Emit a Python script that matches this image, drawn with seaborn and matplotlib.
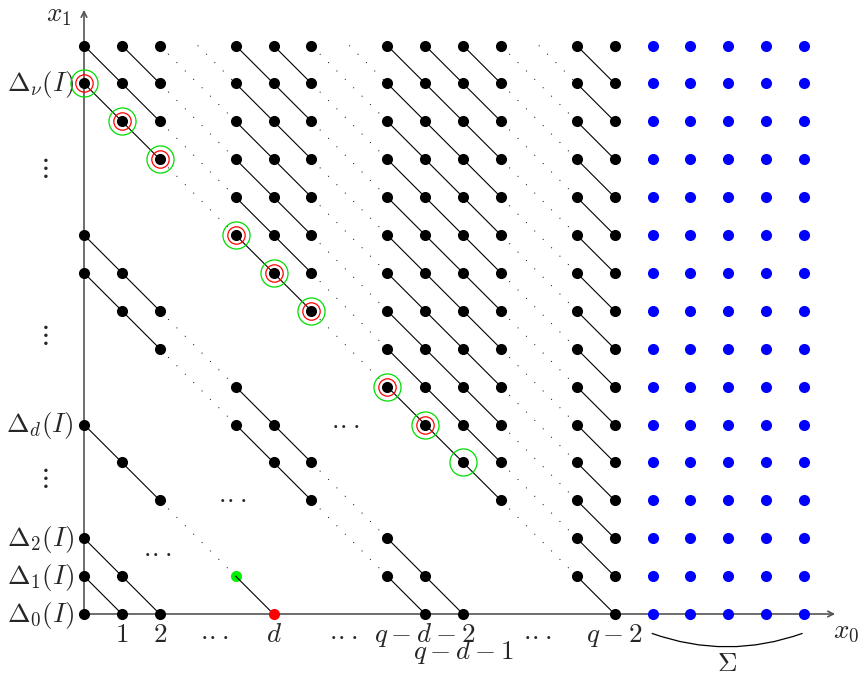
import numpy as np
import pandas as pd
import matplotlib
matplotlib.use("Agg")
import matplotlib.pyplot as plt
import seaborn as sns
from matplotlib.path import Path
from matplotlib.patches import PathPatch

sns.set_style("white")
plt.rcParams["mathtext.fontset"] = "cm"
FS = 19.5

# black lattice points: visible x0 columns and the x1 rows drawn in each
black_cols = [0, 1, 2, 4, 5, 6, 8, 9, 10, 11, 13, 14]
black_rows = [
    [0, 1, 2, 5, 9, 10, 14, 15],
    [0, 1, 4, 8, 9, 13, 14, 15],
    [0, 3, 7, 8, 12, 13, 14, 15],
    [5, 6, 10, 11, 12, 13, 14, 15],
    [4, 5, 9, 10, 11, 12, 13, 14, 15],
    [3, 4, 8, 9, 10, 11, 12, 13, 14, 15],
    [1, 2, 6, 7, 8, 9, 10, 11, 12, 13, 14, 15],
    [0, 1, 5, 6, 7, 8, 9, 10, 11, 12, 13, 14, 15],
    [0, 4, 5, 6, 7, 8, 9, 10, 11, 12, 13, 14, 15],
    [3, 4, 5, 6, 7, 8, 9, 10, 11, 12, 13, 14, 15],
    [1, 2, 3, 4, 5, 6, 7, 8, 9, 10, 11, 12, 13, 14, 15],
    [0, 1, 2, 3, 4, 5, 6, 7, 8, 9, 10, 11, 12, 13, 14, 15],
]
gap_cols = [3, 7, 12]

# the Sigma block
blue_cols = [15, 16, 17, 18, 19]
blue_rows = [0, 1, 2, 3, 4, 5, 6, 7, 8, 9, 10, 11, 12, 13, 14, 15]

green_pt = (4, 1)
red_pt = (5, 0)

# circled points on the anti-diagonal x0 + x1 = nu
green_ring_cols = [0, 1, 2, 4, 5, 6, 8, 9, 10]
green_ring_rows = [14, 13, 12, 10, 9, 8, 6, 5, 4]
red_ring_cols = [0, 1, 2, 4, 5, 6, 8, 9]
red_ring_rows = [14, 13, 12, 10, 9, 8, 6, 5]

ylabels = [r"$\Delta_0(I)$", r"$\Delta_1(I)$", r"$\Delta_2(I)$", r"$\Delta_d(I)$", r"$\Delta_\nu(I)$"]
ylabel_rows = [0, 1, 2, 5, 14]
xlabels = [r"$1$", r"$2$", r"$d$", r"$q-d-2$", r"$q-2$"]
xlabel_cols = [1, 2, 5, 9, 14]

black = pd.DataFrame(
    [(c, r) for c, rs in zip(black_cols, black_rows) for r in rs], columns=["x0", "x1"]
)
blue = pd.DataFrame([(c, r) for c in blue_cols for r in blue_rows], columns=["x0", "x1"])
lattice = set(map(tuple, black.values.tolist())) | {green_pt, red_pt}
top_row = max(blue_rows)

U = 37.9  # pixels per lattice step
fig = plt.figure(figsize=(8.62, 6.78), dpi=100)
ax = fig.add_axes([0, 0, 1, 1])
ax.set_xlim(-84 / U, (862 - 84) / U)
ax.set_ylim(-(678 - 614) / U, 614 / U)

# axes
axc = "#555555"
ax.annotate("", xy=(19.82, 0), xytext=(0, 0), zorder=1,
            arrowprops=dict(arrowstyle="->", color=axc, lw=1.2, shrinkA=0, shrinkB=0))
ax.annotate("", xy=(0, 15.94), xytext=(0, 0), zorder=1,
            arrowprops=dict(arrowstyle="->", color=axc, lw=1.2, shrinkA=0, shrinkB=0))

# solid chains along anti-diagonals
for (i, j) in sorted(lattice):
    if (i + 1, j - 1) in lattice:
        ax.plot([i, i + 1], [j, j - 1], color="black", lw=0.8, zorder=2)

# dotted continuations across the gap columns
for g in gap_cols:
    for (i, j) in sorted(lattice):
        if i != g + 1:
            continue
        if (g - 1, j + 2) in lattice:
            start = (g - 1, j + 2)
        elif j + 1 == top_row:
            start = (g, top_row)
        else:
            continue
        ax.plot([start[0], i], [start[1], j], color="black", lw=0.7,
                linestyle=(0, (1, 11.2)), zorder=1.5)

sns.scatterplot(data=black, x="x0", y="x1", color="black", s=64, linewidth=0, ax=ax, zorder=3)
sns.scatterplot(data=blue, x="x0", y="x1", color="#0000ff", s=64, linewidth=0, ax=ax, zorder=3)
ax.scatter([green_pt[0]], [green_pt[1]], color="#00ee00", s=64, linewidth=0, zorder=1.8)
ax.scatter([red_pt[0]], [red_pt[1]], color="#ff0000", s=64, linewidth=0, zorder=3)

ax.plot(green_ring_cols, green_ring_rows, "o", ls="none", mfc="none", mec="#00dd00", ms=19.5, mew=0.9, zorder=4)
ax.plot(red_ring_cols, red_ring_rows, "o", ls="none", mfc="none", mec="#ff0000", ms=12.5, mew=0.9, zorder=4)

# labels
dots = r"$\cdot\!\cdot\!\cdot$"
for lab, r in zip(ylabels, ylabel_rows):
    ax.text(-0.27, r - 0.2, lab, ha="right", va="baseline", fontsize=FS)
for y in [11.77, 7.36, 3.59]:
    ax.text(-1.08, y, r"$\vdots$", ha="center", va="center", fontsize=FS)
for lab, c in zip(xlabels, xlabel_cols):
    ax.text(c, -0.74, lab, ha="center", va="baseline", fontsize=FS)
ax.text(10, -1.2, r"$q-d-1$", ha="center", va="baseline", fontsize=FS)
for x in [3.43, 6.83, 11.95]:
    ax.text(x, -0.74, dots, ha="center", va="baseline", fontsize=FS)
for x, y in [(1.93, 1.61), (3.9, 3.04), (6.89, 4.99)]:
    ax.text(x, y - 0.16, dots, ha="center", va="baseline", fontsize=FS)
ax.text(-0.32, 15.8, r"$x_1$", ha="right", va="center", fontsize=FS)
ax.text(19.76, -0.45, r"$x_0$", ha="left", va="center", fontsize=FS)

# brace under the Sigma block
brace = Path([(14.98, -0.51), (16.97, -1.22), (18.96, -0.51)],
             [Path.MOVETO, Path.CURVE3, Path.CURVE3])
ax.add_patch(PathPatch(brace, facecolor="none", edgecolor="black", lw=0.9))
ax.text(16.97, -1.32, r"$\Sigma$", ha="center", va="center", fontsize=FS)

ax.axis("off")
fig.savefig("out.png", dpi=100)
